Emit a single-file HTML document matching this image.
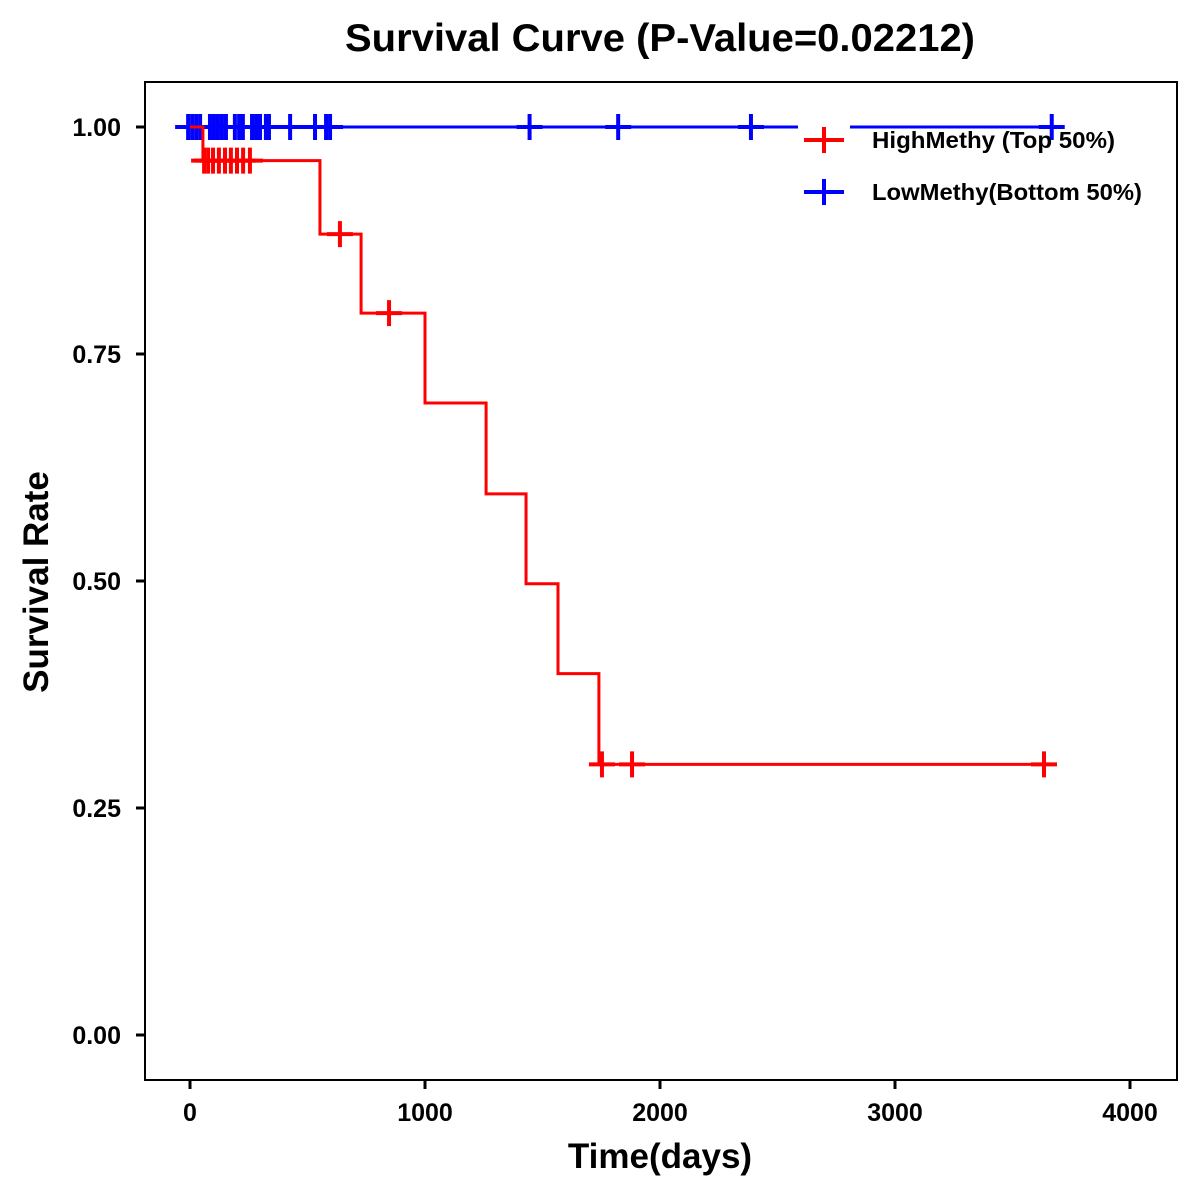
<!DOCTYPE html>
<html><head><meta charset="utf-8"><style>body{margin:0;background:#fff}svg{display:block}text{font-family:"Liberation Sans",Arial,sans-serif;font-weight:bold}</style></head>
<body>
<svg id="chart" width="1200" height="1200" viewBox="0 0 1200 1200" xmlns="http://www.w3.org/2000/svg">
<rect width="1200" height="1200" fill="#fff"/>
<text x="660" y="51" text-anchor="middle" font-size="39" textLength="630" lengthAdjust="spacingAndGlyphs">Survival Curve (P-Value=0.02212)</text>
<g id="axes"></g>
<g id="series"></g>
<rect x="145" y="82" width="1032" height="998" fill="none" stroke="#000" stroke-width="2"/>
<text x="660" y="1168" text-anchor="middle" font-size="35">Time(days)</text>
<text transform="translate(48,582) rotate(-90)" text-anchor="middle" font-size="35">Survival Rate</text>
<g id="legend"></g>
</svg>
<script>
const xTicks=[0,1000,2000,3000,4000];
const yTicks=[0,0.25,0.5,0.75,1];
const yTickLabels=["0.00","0.25","0.50","0.75","1.00"];
const highTimes=[0,55,553,728,1000,1260,1430,1566,1740,3634];
const highSurv=[1,0.963,0.882,0.795,0.696,0.596,0.497,0.398,0.298,0.298];
const highCensor=[60,77,98,123,149,174,200,226,255,638,847,1753,1881,3634];
const lowTimes=[-50,3667];
const lowSurv=[1,1];
const lowCensor=[-8,9,26,43,85,102,119,136,153,191,209,225,264,281,298,323,336,426,532,579,596,1445,1822,2387,3667];
const X=t=>190+t*0.235;
const Y=s=>1035-s*908;
const NS="http://www.w3.org/2000/svg";
function mk(tag,attrs,parent){const e=document.createElementNS(NS,tag);for(const k in attrs)e.setAttribute(k,attrs[k]);parent.appendChild(e);return e;}
const axes=document.getElementById('axes');
xTicks.forEach(t=>{
 const l=mk('line',{x1:X(t),x2:X(t),y1:1080,y2:1089,stroke:'#000','stroke-width':3},axes);
 
 
 const tx=mk('text',{x:X(t),y:1121,'text-anchor':'middle','font-size':25},axes);tx.textContent=t;
 
 
});
yTicks.forEach((v,i)=>{
 const l=mk('line',{x1:136,x2:145,y1:Y(v),y2:Y(v),stroke:'#000','stroke-width':3},axes);
 
 
 const tx=mk('text',{x:121,y:Y(v)+9,'text-anchor':'end','font-size':25},axes);tx.textContent=yTickLabels[i];
 
 
});
const series=document.getElementById('series');
function stepPath(times,surv){let d='M'+X(times[0])+','+Y(surv[0]);for(let i=1;i<times.length;i++){d+=' H'+X(times[i])+' V'+Y(surv[i]);}return d;}
function survAt(times,surv,t){let s=surv[0];for(let i=0;i<times.length;i++){if(times[i]<=t)s=surv[i];}return s;}
function drawSeries(times,surv,cens,color,name){
 const p=mk('path',{d:stepPath(times,surv),fill:'none',stroke:color,'stroke-width':3},series);
 
 
 cens.forEach(t=>{const s=survAt(times,surv,t);
  const g=mk('path',{d:'M'+(X(t)-13)+','+Y(s)+' h26 M'+X(t)+','+(Y(s)-13)+' v26',stroke:color,'stroke-width':4},series);
  
  
 });
}
drawSeries(lowTimes,lowSurv,lowCensor,'#0000ff','low-methy');
drawSeries(highTimes,highSurv,highCensor,'#ff0000','high-methy');
const lg=document.getElementById('legend');
const bg=mk('rect',{x:798,y:115,width:52,height:95,fill:'#fff'},lg);


[['#ff0000','HighMethy (Top 50%)',140,'legend-entry-high',243],['#0000ff','LowMethy(Bottom 50%)',192,'legend-entry-low',270]].forEach(([c,t,y,n,w])=>{
 const g=mk('g',{},lg);
 
 
 mk('path',{d:'M804,'+y+' h40 M824,'+(y-13)+' v26',stroke:c,'stroke-width':4},g);
 const tx=mk('text',{x:872,y:y+8,'font-size':23,textLength:w,lengthAdjust:'spacingAndGlyphs'},g);tx.textContent=t;
});
</script>
</body></html>
